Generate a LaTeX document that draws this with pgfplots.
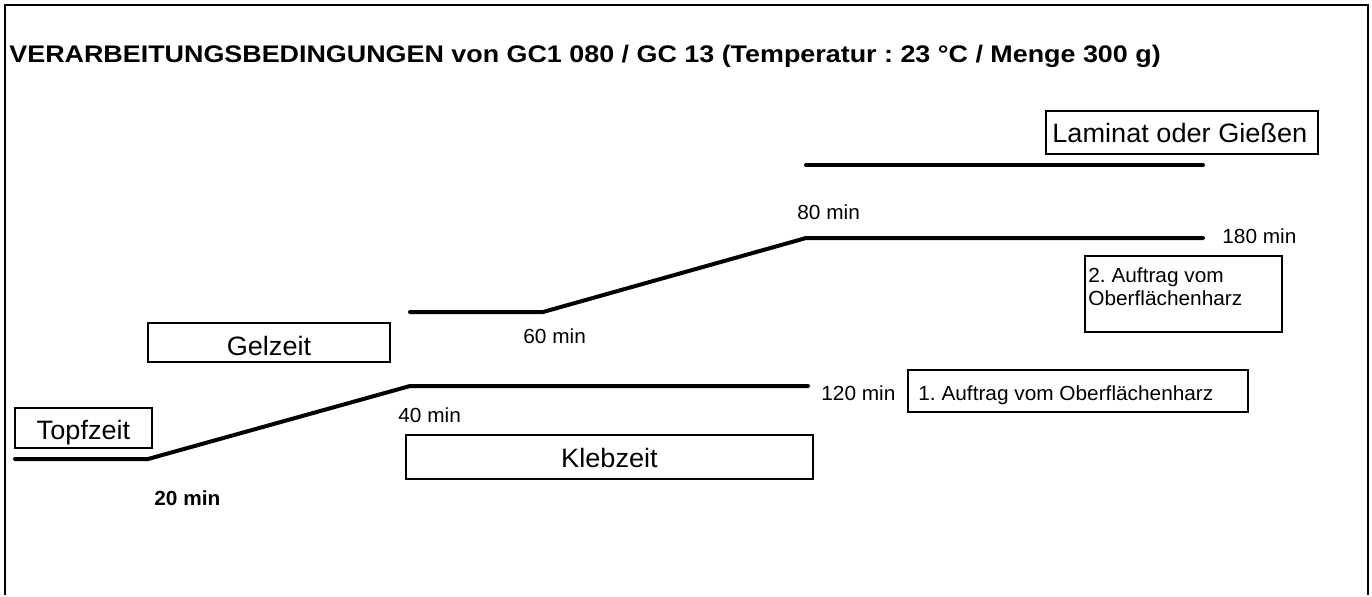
\documentclass[border=0pt]{standalone}
\usepackage{fontspec}
\setmainfont[FakeStretch=1.02]{Liberation Sans}
\newfontfamily\titlefont[FakeStretch=1.12]{Liberation Sans}
\usepackage{pgfplots}
\pgfplotsset{compat=1.18}
\begin{document}
\frenchspacing
\begin{tikzpicture}
\begin{axis}[hide axis, scale only axis, width=686pt, height=297.5pt,
  xmin=0, xmax=1372, ymin=0, ymax=595, y dir=reverse, clip=false]
\path (axis cs:0,0) rectangle (axis cs:1372,595);
% frame
\addplot[black, mark=none, line width=1pt] coordinates {(5,595) (5,5) (1368,5) (1368,595)};
% stage lines
\addplot[black, mark=none, line width=2pt, line cap=round, line join=round] coordinates {(15,459) (148,459) (410,386) (808,386)};
\addplot[black, mark=none, line width=2pt, line cap=round, line join=round] coordinates {(410,312) (543,312) (806,238) (1203,238)};
\addplot[black, mark=none, line width=2pt, line cap=round, line join=round] coordinates {(806,165) (1203,165)};
% boxes
\draw[line width=0.75pt] (axis cs:15,408) rectangle (axis cs:152,448);
\draw[line width=0.75pt] (axis cs:148,323) rectangle (axis cs:390,362);
\draw[line width=0.75pt] (axis cs:406,435) rectangle (axis cs:813,479);
\draw[line width=0.75pt] (axis cs:1046,111) rectangle (axis cs:1318,154);
\draw[line width=0.75pt] (axis cs:908,370) rectangle (axis cs:1248,412);
\draw[line width=0.75pt] (axis cs:1085,256) rectangle (axis cs:1282,332);
% title
\node[anchor=base west, inner sep=0pt, font=\titlefont\bfseries\fontsize{12}{14}\selectfont] at (axis cs:9,62) {VERARBEITUNGSBEDINGUNGEN von GC1 080 / GC 13 (Temperatur : 23 °C / Menge 300 g)};
% box labels
\node[anchor=base, inner sep=0pt, font=\fontsize{13.3}{15}\selectfont] at (axis cs:83.5,439) {Topfzeit};
\node[anchor=base, inner sep=0pt, font=\fontsize{13.3}{15}\selectfont] at (axis cs:269,355) {Gelzeit};
\node[anchor=base, inner sep=0pt, font=\fontsize{13.3}{15}\selectfont] at (axis cs:609.5,467) {Klebzeit};
\node[anchor=base west, inner sep=0pt, font=\fontsize{13.3}{15}\selectfont] at (axis cs:1052,142) {Laminat oder Gießen};
\node[anchor=base west, inner sep=0pt, font=\fontsize{10.2}{12}\selectfont] at (axis cs:918,400) {1. Auftrag vom Oberflächenharz};
\node[anchor=base west, inner sep=0pt, font=\fontsize{10.2}{12}\selectfont] at (axis cs:1088,282) {2. Auftrag vom};
\node[anchor=base west, inner sep=0pt, font=\fontsize{10.2}{12}\selectfont] at (axis cs:1088,305) {Oberflächenharz};
% time labels
\node[anchor=base west, inner sep=0pt, font=\bfseries\fontsize{10.2}{12}\selectfont] at (axis cs:154,505) {20 min};
\node[anchor=base west, inner sep=0pt, font=\fontsize{10.2}{12}\selectfont] at (axis cs:398,422) {40 min};
\node[anchor=base west, inner sep=0pt, font=\fontsize{10.2}{12}\selectfont] at (axis cs:523,343) {60 min};
\node[anchor=base west, inner sep=0pt, font=\fontsize{10.2}{12}\selectfont] at (axis cs:821,400) {120 min};
\node[anchor=base west, inner sep=0pt, font=\fontsize{10.2}{12}\selectfont] at (axis cs:797,219) {80 min};
\node[anchor=base west, inner sep=0pt, font=\fontsize{10.2}{12}\selectfont] at (axis cs:1222,243) {180 min};
\end{axis}
\end{tikzpicture}
\end{document}
